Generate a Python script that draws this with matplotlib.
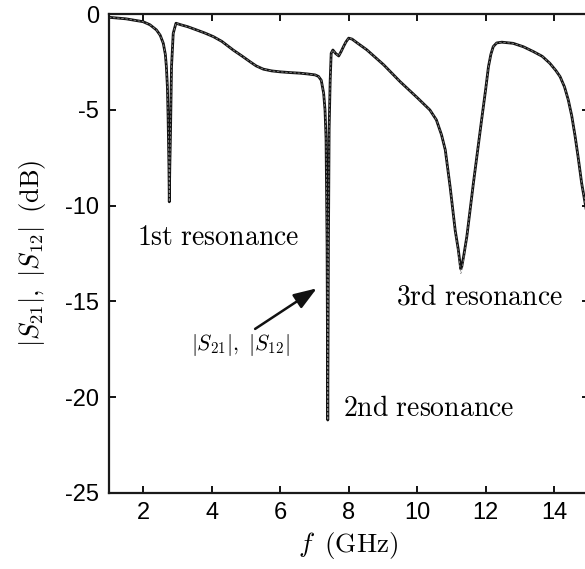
import matplotlib
matplotlib.use('Agg')
import matplotlib.pyplot as plt

# frequency points (GHz)
f_ghz = [1.0, 1.5, 2.0, 2.2, 2.39, 2.5, 2.59, 2.65, 2.68, 2.71, 2.73, 2.755, 2.765,
         2.78, 2.80, 2.83, 2.88, 2.96, 3.1, 3.3, 3.56, 3.8, 4.05, 4.3, 4.63, 4.9,
         5.12, 5.3, 5.51, 5.75, 6.0, 6.3, 6.58, 6.8, 7.02, 7.12, 7.2, 7.27, 7.31,
         7.34, 7.37, 7.39, 7.41, 7.43, 7.46, 7.49, 7.54, 7.62, 7.71, 7.78, 7.85,
         7.92, 8.0, 8.1, 8.25, 8.53, 9.02, 9.5, 9.99, 10.37, 10.56, 10.71, 10.82,
         10.96, 11.11, 11.2, 11.27, 11.3, 11.36, 11.45, 11.64, 11.88, 12.0, 12.08,
         12.15, 12.22, 12.32, 12.47, 12.8, 13.1, 13.39, 13.65, 13.87, 14.05, 14.17,
         14.3, 14.41, 14.51, 14.61, 14.7, 14.8, 14.9, 15.0]

# |S21| in dB
s21_db = [-0.16, -0.24, -0.39, -0.55, -0.82, -1.1, -1.52, -2.1, -2.74, -3.8, -5.35, -8.0, -9.8,
          -8.0, -6.2, -2.74, -1.0, -0.47, -0.55, -0.65, -0.82, -0.98, -1.17, -1.42, -1.87, -2.2,
          -2.48, -2.7, -2.87, -2.96, -3.01, -3.05, -3.08, -3.12, -3.17, -3.25, -3.45, -4.13, -5.0,
          -6.5, -12.0, -21.2, -12.0, -6.0, -3.5, -2.04, -1.87, -2.05, -2.18, -1.95, -1.69,
          -1.45, -1.25, -1.3, -1.5, -1.86, -2.64, -3.52, -4.34, -5.0, -5.52, -6.3, -7.09,
          -9.0, -11.3, -12.3, -13.3, -13.2, -12.6, -11.6, -8.83, -5.52, -3.9, -2.74,
          -2.1, -1.69, -1.5, -1.46, -1.52, -1.7, -1.95, -2.2, -2.56, -2.95, -3.26,
          -3.8, -4.48, -5.3, -6.39, -7.5, -8.83, -9.86, -10.9]

# |S12| in dB (nearly identical, dashed)
s12_db = [-0.16, -0.24, -0.39, -0.55, -0.82, -1.1, -1.52, -2.1, -2.74, -3.8, -5.35, -8.0, -9.8,
          -8.0, -6.2, -2.74, -1.0, -0.47, -0.55, -0.65, -0.82, -0.98, -1.17, -1.42, -1.87, -2.2,
          -2.48, -2.7, -2.87, -2.96, -3.01, -3.05, -3.08, -3.12, -3.17, -3.25, -3.45, -4.13, -5.0,
          -6.5, -12.0, -21.2, -12.0, -6.0, -3.5, -2.04, -1.87, -2.05, -2.18, -1.95, -1.69,
          -1.45, -1.25, -1.3, -1.5, -1.86, -2.64, -3.52, -4.34, -5.0, -5.52, -6.3, -7.09,
          -9.0, -11.3, -12.4, -13.55, -13.45, -12.7, -11.6, -8.83, -5.52, -3.9, -2.74,
          -2.1, -1.69, -1.5, -1.46, -1.52, -1.7, -1.95, -2.2, -2.56, -2.95, -3.26,
          -3.8, -4.48, -5.3, -6.39, -7.5, -8.83, -9.86, -10.9]

x_ticks = [2, 4, 6, 8, 10, 12, 14]
y_ticks = [0, -5, -10, -15, -20, -25]

plt.rcParams['font.family'] = ['Liberation Sans', 'DejaVu Sans']
plt.rcParams['mathtext.fontset'] = 'cm'
plt.rcParams['axes.unicode_minus'] = False

fig = plt.figure(figsize=(5.85, 5.69), dpi=100)
ax = fig.add_axes([0.186, 0.134, 0.82, 0.841])

ax.plot(f_ghz, s21_db, color='#111111', linewidth=2.0)
ax.plot(f_ghz, s12_db, color='#8a8a8a', linewidth=0.6, linestyle='--', dashes=(3, 2))

ax.set_xlim(1, 15)
ax.set_ylim(-25, 0)
ax.set_xticks(x_ticks)
ax.set_yticks(y_ticks)
ax.tick_params(direction='in', length=5, width=1.3, labelsize=17,
               top=True, right=True, pad=7)
for sp in ax.spines.values():
    sp.set_linewidth(1.6)
    sp.set_color('#1a1a1a')

ax.set_xlabel(r'$f\;\;(\mathrm{GHz})$', fontsize=19.5, labelpad=4)
ax.set_ylabel(r'$|S_{21}|,\ |S_{12}|\;\;(\mathrm{dB})$', fontsize=19, labelpad=12)

# resonance labels
ax.text(4.19, -11.7, r'$\mathrm{1st\ resonance}$', fontsize=20, ha='center', va='center')
ax.text(10.33, -20.6, r'$\mathrm{2nd\ resonance}$', fontsize=20, ha='center', va='center')
ax.text(11.82, -14.8, r'$\mathrm{3rd\ resonance}$', fontsize=20, ha='center', va='center')

ax.text(4.83, -17.3, r'$|S_{21}|,\ |S_{12}|$', fontsize=15.5, ha='center', va='center')
ax.annotate('', xy=(7.07, -14.32), xytext=(5.27, -16.44),
            arrowprops=dict(arrowstyle='-|>,head_length=0.7,head_width=0.25',
                            color='#111111', lw=1.8, mutation_scale=20,
                            shrinkA=0, shrinkB=0))

fig.savefig('out.png', dpi=100)
